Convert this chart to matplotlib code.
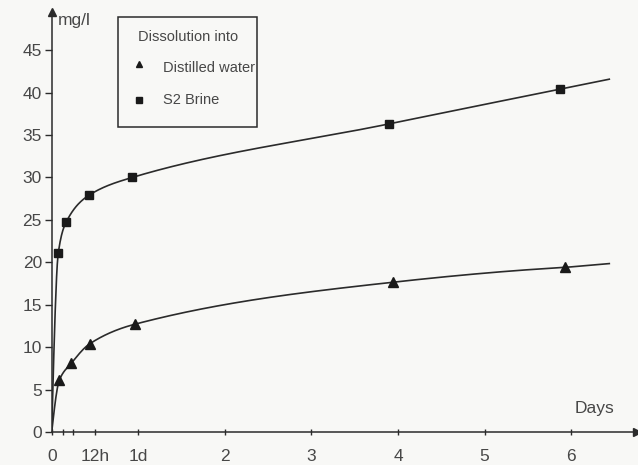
import numpy as np
import matplotlib
matplotlib.use("Agg")
from matplotlib import pyplot as plt
from matplotlib.patches import Rectangle

plt.rcParams['font.family'] = ['Liberation Sans', 'DejaVu Sans']

# data (x in days, y in mg/l)
water_x = [0.088, 0.226, 0.44, 0.96, 3.94, 5.93]
water_y = [6.1, 8.1, 10.4, 12.7, 17.65, 19.4]
brine_x = [0.076, 0.165, 0.43, 0.93, 3.89, 5.87]
brine_y = [21.1, 24.7, 27.9, 30.0, 36.3, 40.4]
curve_end = 6.44

y_ticks = [0, 5, 10, 15, 20, 25, 30, 35, 40, 45]
x_ticks = [0, 0.5, 1, 2, 3, 4, 5, 6]
x_labels = ['0', '12h', '1d', '2', '3', '4', '5', '6']
x_minor = [0.125, 0.25]

INK = '#2b2b2b'
TXT = '#474747'
BG = '#f8f8f6'


def pchip(x, y, xn):
    # monotone cubic through the points, straight on past the last one
    x = np.asarray(x, float)
    y = np.asarray(y, float)
    h = np.diff(x)
    d = np.diff(y) / h
    n = len(x)
    m = np.zeros(n)
    for k in range(1, n - 1):
        if d[k - 1] * d[k] > 0:
            w1 = 2 * h[k] + h[k - 1]
            w2 = h[k] + 2 * h[k - 1]
            m[k] = (w1 + w2) / (w1 / d[k - 1] + w2 / d[k])
    def end(h0, h1, d0, d1):
        s = ((2 * h0 + h1) * d0 - h0 * d1) / (h0 + h1)
        if np.sign(s) != np.sign(d0):
            s = 0.0
        elif np.sign(d0) != np.sign(d1) and abs(s) > abs(3 * d0):
            s = 3 * d0
        return s
    m[0] = end(h[0], h[1], d[0], d[1])
    m[-1] = end(h[-1], h[-2], d[-1], d[-2])
    out = np.empty_like(xn)
    for i, xv in enumerate(xn):
        if xv >= x[-1]:
            out[i] = y[-1] + d[-1] * (xv - x[-1])
            continue
        k = min(np.searchsorted(x, xv, side='right') - 1, n - 2)
        t = (xv - x[k]) / h[k]
        h00 = 2 * t**3 - 3 * t**2 + 1
        h10 = t**3 - 2 * t**2 + t
        h01 = -2 * t**3 + 3 * t**2
        h11 = t**3 - t**2
        out[i] = h00 * y[k] + h10 * h[k] * m[k] + h01 * y[k + 1] + h11 * h[k] * m[k + 1]
    return out


W, H = 638, 465
fig = plt.figure(figsize=(W / 100, H / 100), dpi=100, facecolor=BG)
# axes placed in pixels: origin at (51.7, 432), top at 12, right at 637
ax = fig.add_axes([51.7 / W, (H - 432) / H, (637 - 51.7) / W, 420 / H])
ax.set_facecolor(BG)
ax.set_xlim(0, 6.76)
ax.set_ylim(0, 49.5)

# smooth curves through origin + measured points
for xs, ys in [(water_x, water_y), (brine_x, brine_y)]:
    xx = np.concatenate([[0.0], xs])
    yy = np.concatenate([[0.0], ys])
    grid = np.linspace(0, curve_end, 800)
    ax.plot(grid, pchip(xx, yy, grid), color=INK, lw=1.2, zorder=2)

ax.plot(water_x, water_y, '^', color='#1a1a1a', ms=6.5, zorder=3)
ax.plot(brine_x, brine_y, 's', color='#1a1a1a', ms=5.5, zorder=3)

# axes: left/bottom spines with arrow heads
for s in ['top', 'right']:
    ax.spines[s].set_visible(False)
for s in ['left', 'bottom']:
    ax.spines[s].set_color(INK)
    ax.spines[s].set_linewidth(1.1)
ax.plot(1, 0, '>', color=INK, ms=6, transform=ax.transAxes, clip_on=False)
ax.plot(0, 1, '^', color=INK, ms=6, transform=ax.transAxes, clip_on=False)

ax.set_yticks(y_ticks)
ax.set_xticks(x_ticks)
ax.set_xticklabels(x_labels)
ax.set_xticks(x_minor, minor=True)
ax.tick_params(axis='y', direction='out', length=5, width=1, color=INK,
               labelsize=12.5, labelcolor=TXT, pad=2)
ax.tick_params(axis='x', which='both', direction='inout', length=5, width=1,
               color=INK, labelsize=12.5, labelcolor=TXT, pad=10)

ax.text(58 / W, 1 - 20 / H, 'mg/l', transform=fig.transFigure, fontsize=12.5,
        color=TXT, va='center', ha='left')
ax.text(575 / W, 1 - 408 / H, 'Days', transform=fig.transFigure, fontsize=12.5,
        color=TXT, va='center', ha='left')

# legend box drawn by hand
fig.patches.append(Rectangle((118 / W, 1 - 127 / H), (257 - 118) / W, (127 - 17) / H,
                             transform=fig.transFigure, fill=False,
                             edgecolor=INK, lw=1.1))
fig.text(138 / W, 1 - 37 / H, 'Dissolution into', fontsize=10.5, color=TXT, va='center')
fig.text(163 / W, 1 - 68 / H, 'Distilled water', fontsize=10.5, color=TXT, va='center')
fig.text(163 / W, 1 - 100 / H, 'S2 Brine', fontsize=10.5, color=TXT, va='center')
fig.lines.append(plt.Line2D([139 / W], [1 - 64 / H], marker='^', color='#1a1a1a', ms=5,
                            transform=fig.transFigure, linestyle='none'))
fig.lines.append(plt.Line2D([139 / W], [1 - 100 / H], marker='s', color='#1a1a1a', ms=4,
                            transform=fig.transFigure, linestyle='none'))

fig.savefig('out.png', dpi=100, facecolor=BG)
